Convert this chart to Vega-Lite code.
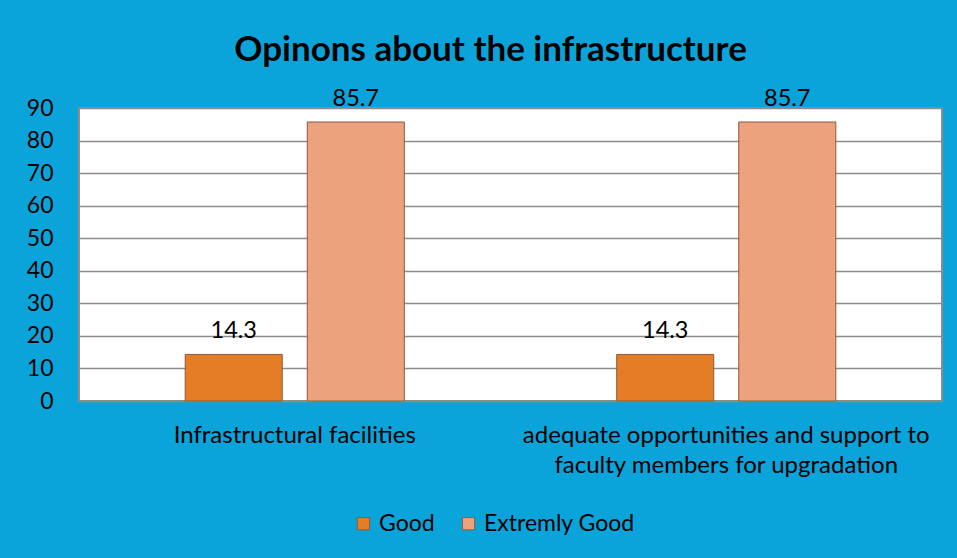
{
  "$schema": "https://vega.github.io/schema/vega-lite/v6.json",
  "width": 863,
  "height": 293,
  "autosize": {"type": "none"},
  "padding": {"left": 79, "top": 108, "right": 15, "bottom": 157},
  "background": "#0ba4da",
  "title": {
    "text": "Opinons about the infrastructure",
    "fontSize": 35,
    "fontWeight": "bold",
    "font": "Lato",
    "color": "#000000",
    "anchor": "middle",
    "dx": -20,
    "offset": 19
  },
  "data": {
    "values": [
      {"category": "Infrastructural facilities", "series": "Good", "value": 14.3},
      {"category": "Infrastructural facilities", "series": "Extremly Good", "value": 85.7},
      {"category": "adequate opportunities and support to faculty members for upgradation", "series": "Good", "value": 14.3},
      {"category": "adequate opportunities and support to faculty members for upgradation", "series": "Extremly Good", "value": 85.7}
    ]
  },
  "encoding": {
    "x": {
      "field": "category",
      "type": "nominal",
      "sort": null,
      "title": null,
      "scale": {"paddingInner": 0, "paddingOuter": 0},
      "axis": {
        "labelAngle": 0,
        "labelFontSize": 24,
        "labelFont": "Lato",
        "labelColor": "#000000",
        "labelPadding": 22,
        "labelLineHeight": 30,
        "labelLimit": 600,
        "ticks": false,
        "domain": false,
        "labelExpr": "datum.value == 'adequate opportunities and support to faculty members for upgradation' ? ['adequate opportunities and support to', 'faculty members for upgradation'] : datum.value"
      }
    },
    "xOffset": {
      "field": "series",
      "type": "nominal",
      "sort": ["Good", "Extremly Good"],
      "scale": {"paddingInner": 0.205, "paddingOuter": 0.87}
    },
    "y": {
      "field": "value",
      "type": "quantitative",
      "title": null,
      "scale": {"domain": [0, 90]},
      "axis": {
        "values": [0, 10, 20, 30, 40, 50, 60, 70, 80, 90],
        "labelFontSize": 23,
        "labelFont": "Lato",
        "labelColor": "#000000",
        "labelPadding": 26,
        "ticks": false,
        "domain": false,
        "gridColor": "#8c8c8c",
        "gridWidth": 1.5
      }
    }
  },
  "layer": [
    {
      "mark": {"type": "bar", "stroke": "#8a5a40", "strokeWidth": 1},
      "encoding": {
        "color": {
          "field": "series",
          "type": "nominal",
          "sort": ["Good", "Extremly Good"],
          "scale": {"domain": ["Good", "Extremly Good"], "range": ["#e47d26", "#eca27c"]},
          "legend": {
            "title": null,
            "orient": "none",
            "direction": "horizontal",
            "legendX": 273,
            "legendY": 404,
            "symbolType": "square",
            "symbolSize": 150,
            "symbolStrokeColor": "#8a5a40",
            "symbolStrokeWidth": 1,
            "labelFontSize": 23,
            "labelFont": "Lato",
            "labelColor": "#000000",
            "labelOffset": 4,
            "columnPadding": 22
          }
        }
      }
    },
    {
      "mark": {"type": "text", "baseline": "bottom", "dy": -11, "fontSize": 23.5, "font": "Lato", "color": "#000000"},
      "encoding": {
        "text": {"field": "value", "type": "quantitative", "format": ".1f"}
      }
    }
  ],
  "config": {
    "view": {"fill": "#ffffff", "stroke": "#8c8c8c", "strokeWidth": 2}
  }
}
